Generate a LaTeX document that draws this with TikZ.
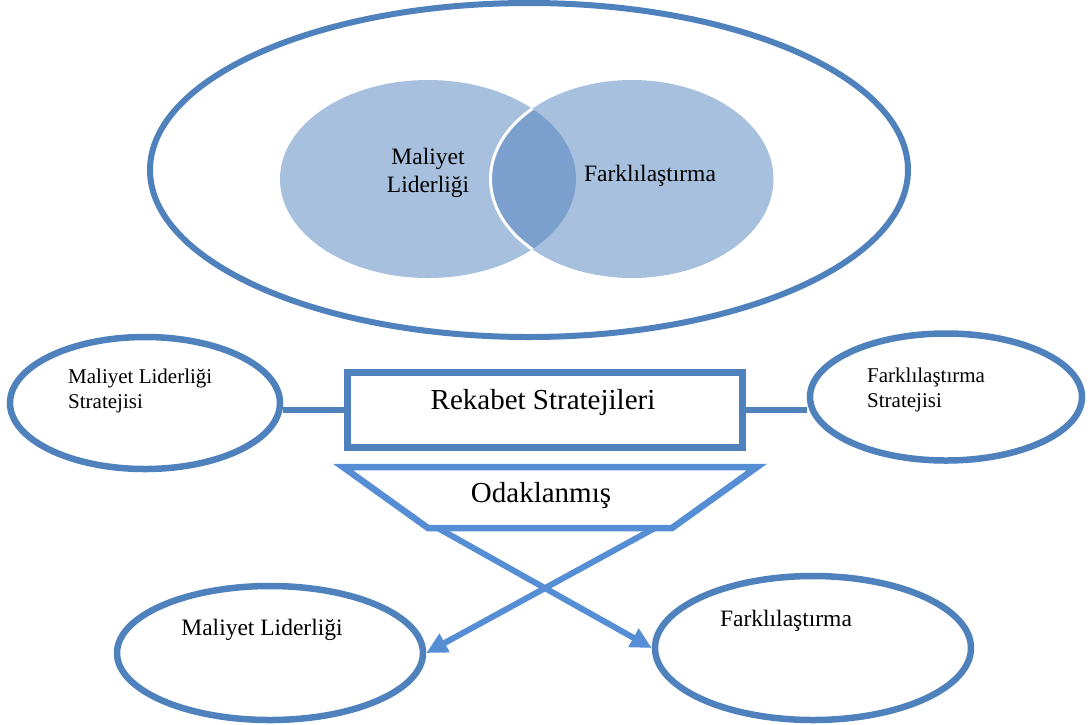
\documentclass[tikz,border=0pt]{standalone}
\usepackage{fontspec}
\setmainfont{Liberation Serif}
\usetikzlibrary{arrows.meta,positioning,calc,shapes.geometric}
\definecolor{lineblue}{HTML}{4F81BD}
\definecolor{arrowblue}{HTML}{558ED5}
\definecolor{vennfill}{HTML}{A7C0DE}
\definecolor{venndark}{HTML}{7BA0CD}
\tikzset{
  outerbox/.style={draw=lineblue,ellipse,line width=6pt,inner sep=0pt},
  ovalbox/.style={draw=lineblue,ellipse,line width=6.5pt,inner sep=0pt},
  vennset/.style={ellipse,fill=vennfill,inner sep=0pt,minimum height=198pt},
  mainbox/.style={draw=lineblue,line width=7pt,minimum width=395pt,minimum height=75pt},
  focusshape/.style={draw=arrowblue,line width=6.5pt},
  link/.style={draw=lineblue,line width=6pt},
  branch/.style={-{Triangle[length=21pt,width=20pt]},draw=arrowblue,line width=6pt},
  biglbl/.style={font=\fontsize{29}{34}\selectfont,inner sep=0pt},
  lbl/.style={font=\fontsize{23.5}{28}\selectfont,align=center,inner sep=0pt},
  smalllbl/.style={font=\fontsize{21}{25}\selectfont,align=left,inner sep=0pt}
}
\begin{document}
\begin{tikzpicture}[x=1pt,y=-1pt]
\useasboundingbox (0,0) rectangle (1091,724);
% upper part: both generic strategies
\node[outerbox,minimum width=758pt,minimum height=334pt] (scope) at (529,170) {};
\node[vennset,minimum width=296pt] (vcost) at (428,179) {};
\node[vennset,minimum width=283pt] (vdiff) at (632,179) {};
\begin{scope}
  \clip (vcost.center) ellipse [x radius=148, y radius=99];
  \fill[venndark] (vdiff.center) ellipse [x radius=141.5, y radius=99];
  \draw[white,line width=3pt] (vdiff.center) ellipse [x radius=141.5, y radius=99];
\end{scope}
\node[lbl] (vcostText) at (428,173) {Maliyet\\Liderliği};
\node[lbl] (vdiffText) at (650,176) {Farklılaştırma};
% middle row
\node[mainbox] (rs) at (545,409.5) {};
\node[biglbl] (rsText) at (543,403) {Rekabet Stratejileri};
\node[ovalbox,minimum width=270pt,minimum height=132pt] (mls) at (145,403) {};
\node[smalllbl,anchor=west] (mlsText) at (68,391) {Maliyet Liderliği\\Stratejisi};
\node[ovalbox,minimum width=272pt,minimum height=127pt] (fs) at (946,397) {};
\node[smalllbl,anchor=west] (fsText) at (867,390) {Farklılaştırma\\Stratejisi};
\draw[link] (rs.west) -- (rs.west -| mls.east);
\draw[link] (rs.east) -- (rs.east -| fs.west);
% focus and its two branches
\draw[focusshape] (343,467) coordinate (ftl) -- (757,467) coordinate (ftr)
  -- (672,528) coordinate (fbr) -- (428,528) coordinate (fbl) -- cycle;
\node[biglbl] (focusText) at (541,496) {Odaklanmış};
\node[ovalbox,minimum width=306pt,minimum height=134pt] (fml) at (270,653) {};
\node[lbl] (fmlText) at (262,630) {Maliyet Liderliği};
\node[ovalbox,minimum width=316pt,minimum height=144pt] (ffd) at (813,648) {};
\node[lbl] (ffdText) at (786,621) {Farklılaştırma};
\coordinate (fl) at ($(fbl)!0.04!(fbr)$);
\coordinate (fr) at ($(fbl)!0.93!(fbr)$);
\draw[branch] (fr) -- (fml.east);
\draw[branch] (fl) -- (ffd.west);
\end{tikzpicture}
\end{document}
